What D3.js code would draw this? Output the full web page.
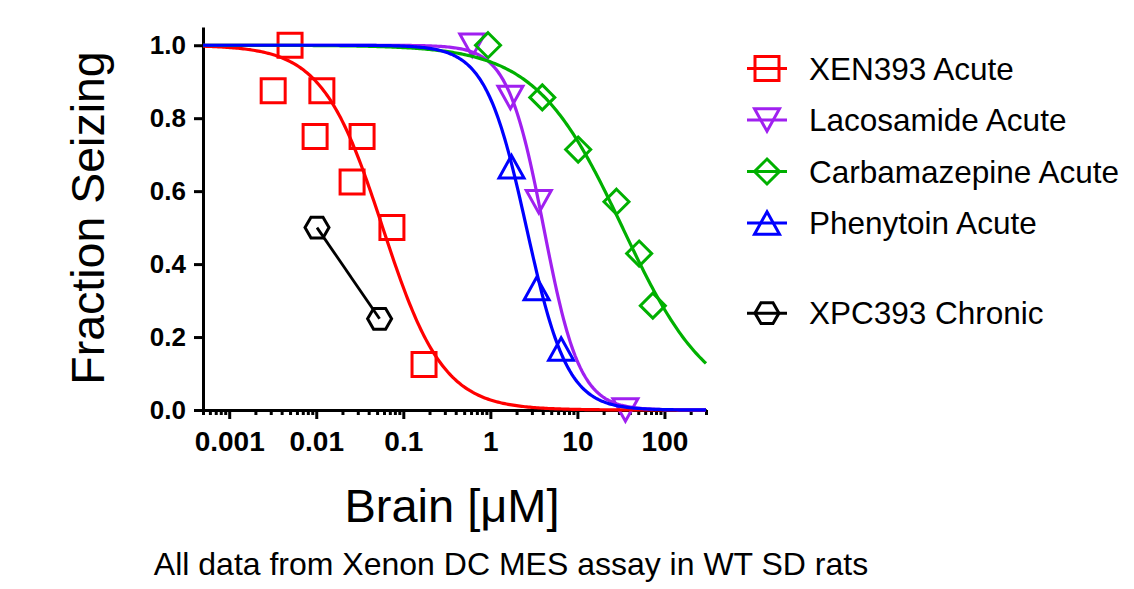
<!DOCTYPE html>
<html>
<head>
<meta charset="utf-8">
<script src="https://cdn.jsdelivr.net/npm/d3@7"></script>
<style>
  body { margin: 0; background: #fff; }
  svg { font-family: "Liberation Sans", Arial, sans-serif; }
</style>
</head>
<body>
<div id="app"></div>
<script>
// --- data ---
const seriesNames = ["XEN393 Acute", "Lacosamide Acute", "Carbamazepine Acute", "Phenytoin Acute", "XPC393 Chronic"];

const xenDose = [0.005, 0.0032, 0.0116, 0.0097, 0.0336, 0.0258, 0.074, 0.173];
const xenFrac = [1.0, 0.875, 0.875, 0.75, 0.75, 0.625, 0.5, 0.125];

const lacDose = [0.62, 1.7, 3.6, 35.6];
const lacFrac = [1.0, 0.857, 0.571, 0.0];

const cbzDose = [0.94, 3.95, 10.2, 28.1, 51.2, 73.5];
const cbzFrac = [1.0, 0.857, 0.714, 0.571, 0.429, 0.286];

const phtDose = [1.75, 3.4, 6.5];
const phtFrac = [0.667, 0.333, 0.167];

const xpcDose = [0.0102, 0.0534];
const xpcFrac = [0.5, 0.25];

// Hill fits (top 1, bottom 0) for the acute series
const fitIC50 = [0.058, 4.1, 33, 2.6];
const fitHill = [1.25, 2.1, 0.87, 1.85];

const xMajorTicks = [0.001, 0.01, 0.1, 1, 10, 100];
const xTickLabels = ["0.001", "0.01", "0.1", "1", "10", "100"];
const yTicks = [0, 0.2, 0.4, 0.6, 0.8, 1.0];

// --- styling ---
const colors = ["#ff0000", "#a020f0", "#00b000", "#0000ff", "#000000"];
const shapes = ["square", "triangleDown", "diamond", "triangleUp", "hexagon"];

const width = 1134, height = 589;
const svg = d3.select("#app").append("svg")
  .attr("width", width)
  .attr("height", height);

const x = d3.scaleLog().domain([0.0005, 300]).range([203, 706]);
const y = d3.scaleLinear().domain([0, 1.05]).range([410, 27]);

function shapePath(shape, s) {
  const h = s * 0.9;
  switch (shape) {
    case "square":
      return `M${-s},${-s}H${s}V${s}H${-s}Z`;
    case "triangleDown":
      return `M${-s},${-h}H${s}L0,${h}Z`;
    case "triangleUp":
      return `M0,${-h}L${s},${h}H${-s}Z`;
    case "diamond":
      return `M0,${-s}L${s},0L0,${s}L${-s},0Z`;
    case "hexagon": {
      const k = s * 0.866;
      return `M${-s},0L${-s / 2},${-k}H${s / 2}L${s},0L${s / 2},${k}H${-s / 2}Z`;
    }
  }
}
const shapeSize = { square: 12, triangleDown: 12.5, triangleUp: 12.5, diamond: 12.5, hexagon: 12 };

// axes
const xAxis = d3.axisBottom(x)
  .tickValues(xMajorTicks)
  .tickFormat((d, i) => xTickLabels[i])
  .tickSize(9)
  .tickSizeOuter(0)
  .tickPadding(12);

const minorTicks = x.ticks().filter(d => !xMajorTicks.includes(d));
const xMinor = d3.axisBottom(x)
  .tickValues(minorTicks)
  .tickFormat("")
  .tickSize(5)
  .tickSizeOuter(0);

const yAxis = d3.axisLeft(y)
  .tickValues(yTicks)
  .tickFormat(d3.format(".1f"))
  .tickSize(9)
  .tickSizeOuter(0)
  .tickPadding(8);

const gxm = svg.append("g").attr("transform", "translate(0,410)").call(xMinor);
const gx = svg.append("g").attr("transform", "translate(0,410)").call(xAxis);
const gy = svg.append("g").attr("transform", "translate(203,0)").call(yAxis);

[gx, gxm, gy].forEach(g => {
  g.selectAll("path.domain").attr("stroke", "#000").attr("stroke-width", 3);
  g.selectAll(".tick line").attr("stroke", "#000").attr("stroke-width", 3);
});
gx.selectAll(".tick text")
  .attr("font-size", 28).attr("font-weight", "bold").attr("fill", "#000");
gy.selectAll(".tick text")
  .attr("font-size", 26).attr("font-weight", "bold").attr("fill", "#000");

// axis titles
svg.append("text")
  .attr("transform", "translate(104,218) rotate(-90)")
  .attr("text-anchor", "middle")
  .attr("font-size", 46.5)
  .text("Fraction Seizing");

svg.append("text")
  .attr("x", 452).attr("y", 522)
  .attr("text-anchor", "middle")
  .attr("font-size", 47)
  .text("Brain [μM]");

svg.append("text")
  .attr("x", 511).attr("y", 575)
  .attr("text-anchor", "middle")
  .attr("font-size", 32)
  .text("All data from Xenon DC MES assay in WT SD rats");

// series
const series = [
  { dose: xenDose, frac: xenFrac },
  { dose: lacDose, frac: lacFrac },
  { dose: cbzDose, frac: cbzFrac },
  { dose: phtDose, frac: phtFrac },
  { dose: xpcDose, frac: xpcFrac }
];

const line = d3.line().x(d => x(d[0])).y(d => y(d[1]));
const logGrid = d3.range(0, 301).map(i => Math.pow(10, Math.log10(0.0005) + i / 300 * Math.log10(300 / 0.0005)));

const plot = svg.append("g");

// markers first, curves over them (blue last)
series.forEach((s, i) => {
  const g = plot.append("g");
  if (i === 4) {
    g.append("path")
      .attr("d", line(s.dose.map((d, j) => [d, s.frac[j]])))
      .attr("fill", "none").attr("stroke", colors[i]).attr("stroke-width", 2.8);
  }
  g.selectAll("path.pt")
    .data(s.dose.map((d, j) => [d, s.frac[j]]))
    .join("path")
    .attr("class", "pt")
    .attr("transform", d => `translate(${x(d[0])},${y(d[1])})`)
    .attr("d", shapePath(shapes[i], shapeSize[shapes[i]]))
    .attr("fill", "none")
    .attr("stroke", colors[i])
    .attr("stroke-width", 3);
});

fitIC50.forEach((ic, i) => {
  const pts = logGrid.map(d => [d, 1 / (1 + Math.pow(d / ic, fitHill[i]))]);
  plot.append("path")
    .attr("d", line(pts))
    .attr("fill", "none")
    .attr("stroke", colors[i])
    .attr("stroke-width", 3.2);
});

// legend
const legendRow = [0, 1, 2, 3, 4.75];
const legend = svg.append("g").attr("transform", "translate(767,68.5)");
seriesNames.forEach((name, i) => {
  const g = legend.append("g").attr("transform", `translate(0,${legendRow[i] * 51.5})`);
  g.append("line")
    .attr("x1", -20).attr("x2", 20)
    .attr("stroke", colors[i]).attr("stroke-width", 3);
  g.append("path")
    .attr("d", shapePath(shapes[i], shapeSize[shapes[i]]))
    .attr("fill", "none").attr("stroke", colors[i]).attr("stroke-width", 3);
  g.append("text")
    .attr("x", 42).attr("dy", "0.36em")
    .attr("font-size", 31.5)
    .text(name);
});
</script>
</body>
</html>
